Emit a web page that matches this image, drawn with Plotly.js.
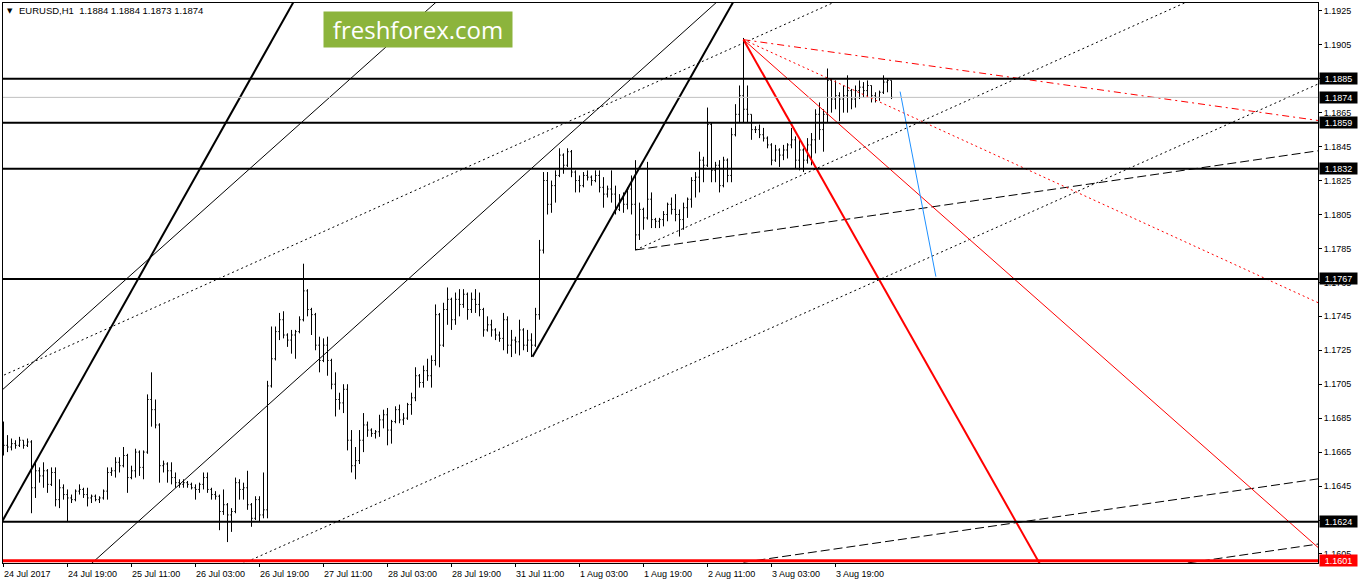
<!DOCTYPE html>
<html><head><meta charset="utf-8">
<script src="https://cdn.plot.ly/plotly-3.0.1.min.js"></script>
<style>html,body{margin:0;padding:0;background:#fff;overflow:hidden}#chart{width:1358px;height:584px}</style>
</head><body><div id="chart"></div>
<script>
// EURUSD H1 bars
const open=[
1.1672,1.1669,1.1668,1.1670,1.1669,1.1672,1.1669,1.1671,1.1644,1.1654,
1.1651,1.1654,1.1646,1.1653,1.1637,1.1644,1.1640,1.1638,1.1637,1.1642,
1.1643,1.1640,1.1638,1.1639,1.1637,1.1638,1.1642,1.1653,1.1654,1.1659,
1.1657,1.1663,1.1650,1.1654,1.1665,1.1656,1.1665,1.1696,1.1690,1.1681,
1.1657,1.1658,1.1654,1.1650,1.1647,1.1646,1.1647,1.1646,1.1644,1.1643,
1.1646,1.1650,1.1643,1.1640,1.1639,1.1630,1.1634,1.1628,1.1630,1.1647,
1.1643,1.1644,1.1634,1.1626,1.1637,1.1628,1.1631,1.1704,1.1720,1.1736,
1.1743,1.1734,1.1731,1.1734,1.1736,1.1743,1.1760,1.1749,1.1746,1.1728,
1.1719,1.1728,1.1719,1.1705,1.1696,1.1694,1.1702,1.1672,1.1657,1.1660,
1.1672,1.1681,1.1678,1.1676,1.1677,1.1684,1.1687,1.1678,1.1683,1.1690,
1.1684,1.1685,1.1693,1.1697,1.1710,1.1706,1.1713,1.1710,1.1719,1.1746,
1.1728,1.1749,1.1755,1.1743,1.1755,1.1752,1.1758,1.1749,1.1755,1.1752,
1.1749,1.1737,1.1740,1.1737,1.1734,1.1732,1.1743,1.1728,1.1731,1.1730,
1.1737,1.1728,1.1731,1.1728,1.1746,1.1784,1.1825,1.1811,1.1822,1.1828,
1.1840,1.1834,1.1842,1.1830,1.1825,1.1822,1.1828,1.1827,1.1825,1.1828,
1.1821,1.1817,1.1820,1.1817,1.1808,1.1814,1.1811,1.1820,1.1811,1.1793,
1.1808,1.1803,1.1814,1.1802,1.1801,1.1802,1.1805,1.1811,1.1808,1.1805,
1.1802,1.1809,1.1814,1.1825,1.1827,1.1837,1.1834,1.1858,1.1831,1.1834,
1.1822,1.1837,1.1828,1.1852,1.1864,1.1875,1.1867,1.1864,1.1855,1.1855,
1.1852,1.1850,1.1846,1.1837,1.1843,1.1840,1.1843,1.1846,1.1849,1.1837,
1.1843,1.1837,1.1846,1.1849,1.1864,1.1855,1.1864,1.1884,1.1873,1.1875,
1.1873,1.1875,1.1878,1.1873,1.1878,1.1880,1.1878,1.1881,1.1875,1.1874,
1.1877,1.1883,1.1884];
const high=[
1.1683,1.1675,1.1673,1.1672,1.1674,1.1672,1.1673,1.1672,1.1660,1.1656,
1.1659,1.1655,1.1656,1.1656,1.1649,1.1646,1.1643,1.1640,1.1643,1.1646,
1.1644,1.1644,1.1640,1.1640,1.1639,1.1643,1.1656,1.1656,1.1662,1.1662,
1.1668,1.1664,1.1657,1.1667,1.1666,1.1666,1.1699,1.1712,1.1696,1.1682,
1.1660,1.1659,1.1659,1.1653,1.1649,1.1649,1.1648,1.1647,1.1646,1.1647,
1.1653,1.1653,1.1644,1.1642,1.1640,1.1643,1.1635,1.1632,1.1650,1.1649,
1.1647,1.1654,1.1635,1.1639,1.1639,1.1653,1.1707,1.1739,1.1739,1.1747,
1.1748,1.1735,1.1737,1.1737,1.1745,1.1776,1.1761,1.1750,1.1747,1.1733,
1.1732,1.1733,1.1720,1.1712,1.1700,1.1705,1.1705,1.1678,1.1668,1.1678,
1.1688,1.1683,1.1679,1.1678,1.1687,1.1690,1.1691,1.1684,1.1692,1.1693,
1.1688,1.1694,1.1700,1.1715,1.1711,1.1716,1.1720,1.1722,1.1752,1.1747,
1.1753,1.1762,1.1756,1.1759,1.1761,1.1761,1.1759,1.1759,1.1761,1.1759,
1.1750,1.1745,1.1743,1.1738,1.1736,1.1747,1.1745,1.1737,1.1733,1.1743,
1.1738,1.1737,1.1735,1.1750,1.1790,1.1830,1.1830,1.1825,1.1831,1.1844,
1.1841,1.1844,1.1843,1.1831,1.1828,1.1830,1.1831,1.1828,1.1831,1.1831,
1.1827,1.1822,1.1831,1.1822,1.1817,1.1818,1.1821,1.1828,1.1837,1.1812,
1.1809,1.1836,1.1818,1.1803,1.1803,1.1807,1.1812,1.1815,1.1817,1.1808,
1.1812,1.1815,1.1827,1.1830,1.1842,1.1839,1.1868,1.1859,1.1836,1.1837,
1.1839,1.1838,1.1856,1.1870,1.1881,1.1909,1.1881,1.1864,1.1857,1.1858,
1.1856,1.1851,1.1847,1.1846,1.1844,1.1846,1.1847,1.1856,1.1851,1.1849,
1.1844,1.1850,1.1853,1.1867,1.1871,1.1867,1.1891,1.1885,1.1884,1.1877,
1.1881,1.1887,1.1879,1.1881,1.1884,1.1883,1.1884,1.1881,1.1877,1.1878,
1.1887,1.1885,1.1884];
const low=[
1.1663,1.1665,1.1666,1.1667,1.1668,1.1667,1.1668,1.1629,1.1638,1.1647,
1.1644,1.1641,1.1645,1.1633,1.1632,1.1637,1.1624,1.1635,1.1636,1.1640,
1.1638,1.1633,1.1635,1.1636,1.1635,1.1637,1.1637,1.1651,1.1650,1.1653,
1.1656,1.1641,1.1649,1.1650,1.1651,1.1649,1.1664,1.1680,1.1679,1.1647,
1.1653,1.1647,1.1646,1.1644,1.1644,1.1644,1.1644,1.1643,1.1637,1.1641,
1.1643,1.1641,1.1637,1.1637,1.1619,1.1628,1.1612,1.1618,1.1629,1.1637,
1.1637,1.1631,1.1621,1.1625,1.1624,1.1626,1.1626,1.1703,1.1719,1.1731,
1.1732,1.1727,1.1723,1.1720,1.1735,1.1742,1.1745,1.1734,1.1725,1.1712,
1.1718,1.1710,1.1702,1.1686,1.1690,1.1688,1.1666,1.1653,1.1649,1.1658,
1.1665,1.1674,1.1674,1.1673,1.1674,1.1679,1.1669,1.1670,1.1682,1.1682,
1.1681,1.1684,1.1687,1.1695,1.1703,1.1703,1.1707,1.1703,1.1716,1.1715,
1.1727,1.1740,1.1737,1.1740,1.1745,1.1750,1.1743,1.1747,1.1747,1.1745,
1.1733,1.1736,1.1733,1.1731,1.1730,1.1725,1.1723,1.1721,1.1723,1.1722,
1.1725,1.1724,1.1721,1.1727,1.1743,1.1782,1.1805,1.1806,1.1812,1.1827,
1.1829,1.1833,1.1827,1.1818,1.1818,1.1821,1.1825,1.1822,1.1824,1.1818,
1.1809,1.1815,1.1812,1.1805,1.1807,1.1806,1.1808,1.1805,1.1784,1.1790,
1.1796,1.1802,1.1797,1.1797,1.1797,1.1798,1.1801,1.1805,1.1801,1.1792,
1.1796,1.1803,1.1809,1.1815,1.1818,1.1824,1.1833,1.1824,1.1824,1.1818,
1.1821,1.1824,1.1824,1.1851,1.1859,1.1859,1.1859,1.1849,1.1853,1.1850,
1.1848,1.1844,1.1834,1.1836,1.1833,1.1837,1.1838,1.1844,1.1832,1.1831,
1.1830,1.1835,1.1834,1.1841,1.1849,1.1842,1.1859,1.1865,1.1867,1.1860,
1.1865,1.1865,1.1867,1.1868,1.1873,1.1874,1.1874,1.1871,1.1871,1.1872,
1.1876,1.1877,1.1873];
const close=[
1.1669,1.1668,1.1670,1.1669,1.1672,1.1669,1.1671,1.1644,1.1654,1.1651,
1.1654,1.1646,1.1653,1.1637,1.1644,1.1640,1.1638,1.1637,1.1642,1.1643,
1.1640,1.1638,1.1639,1.1637,1.1638,1.1642,1.1653,1.1654,1.1659,1.1657,
1.1663,1.1650,1.1654,1.1665,1.1656,1.1665,1.1696,1.1690,1.1681,1.1657,
1.1658,1.1654,1.1650,1.1647,1.1646,1.1647,1.1646,1.1644,1.1643,1.1646,
1.1650,1.1643,1.1640,1.1639,1.1630,1.1634,1.1628,1.1630,1.1647,1.1643,
1.1644,1.1634,1.1626,1.1637,1.1628,1.1631,1.1704,1.1720,1.1736,1.1743,
1.1734,1.1731,1.1734,1.1736,1.1743,1.1760,1.1749,1.1746,1.1728,1.1719,
1.1728,1.1719,1.1705,1.1696,1.1694,1.1702,1.1672,1.1657,1.1660,1.1672,
1.1681,1.1678,1.1676,1.1677,1.1684,1.1687,1.1678,1.1683,1.1690,1.1684,
1.1685,1.1693,1.1697,1.1710,1.1706,1.1713,1.1710,1.1719,1.1746,1.1728,
1.1749,1.1755,1.1743,1.1755,1.1752,1.1758,1.1749,1.1755,1.1752,1.1749,
1.1737,1.1740,1.1737,1.1734,1.1732,1.1743,1.1728,1.1731,1.1730,1.1737,
1.1728,1.1731,1.1728,1.1746,1.1784,1.1825,1.1811,1.1822,1.1828,1.1840,
1.1834,1.1842,1.1830,1.1825,1.1822,1.1828,1.1827,1.1825,1.1828,1.1821,
1.1817,1.1820,1.1817,1.1808,1.1814,1.1811,1.1820,1.1811,1.1793,1.1808,
1.1803,1.1814,1.1802,1.1801,1.1802,1.1805,1.1811,1.1808,1.1805,1.1802,
1.1809,1.1814,1.1825,1.1827,1.1837,1.1834,1.1858,1.1831,1.1834,1.1822,
1.1837,1.1828,1.1852,1.1864,1.1875,1.1867,1.1864,1.1855,1.1855,1.1852,
1.1850,1.1846,1.1837,1.1843,1.1840,1.1843,1.1846,1.1849,1.1837,1.1843,
1.1837,1.1846,1.1849,1.1864,1.1855,1.1864,1.1884,1.1873,1.1875,1.1873,
1.1875,1.1878,1.1873,1.1878,1.1880,1.1878,1.1881,1.1875,1.1874,1.1877,
1.1883,1.1884,1.1874];

// time axis labels (bar index -> label)
const timeTickIdx=[0,16,32,48,64,80,96,112,128,144,160,176,192,208];
const timeTickText=["24 Jul 2017","24 Jul 19:00","25 Jul 11:00","26 Jul 03:00","26 Jul 19:00","27 Jul 11:00","28 Jul 03:00","28 Jul 19:00","31 Jul 11:00","1 Aug 03:00","1 Aug 19:00","2 Aug 11:00","3 Aug 03:00","3 Aug 19:00"];
// price scale
const priceTicks=[1.1925,1.1905,1.1885,1.1865,1.1845,1.1825,1.1805,1.1785,1.1765,1.1745,1.1725,1.1705,1.1685,1.1665,1.1645,1.1625,1.1605];
// horizontal levels
const blackLevels=[1.1885,1.1859,1.1832,1.1767,1.1624];
const redLevel=1.1601;
const bidLevel=1.1874;
const header="EURUSD,H1  1.1884 1.1884 1.1873 1.1874";
// trend line anchors [barIndex, price]
const thick1=[[-1,1.16214],[75,1.19407]];
const thick2=[[132.25,1.17212],[185,1.19409]];
const thin1=[[-1,1.17002],[112,1.19382]];
const thin2=[[20.2,1.15956],[181.7,1.19373]];
const dot1=[[-1,1.17092],[215,1.19378]];
const dot2=[[56.3,1.15956],[330,1.18833]];
const dot3=[[158,1.17841],[302.2,1.19370]];
const dash1=[[158,1.17841],[330,1.18430]];
const dash2=[[185,1.16001],[330,1.16497]];
const dash3=[[280,1.15942],[330,1.16113]];
const red1=[[185,1.1908],[262,1.1587]];
const red2=[[185,1.1908],[331,1.16039]];
const red3=[[185,1.1908],[331,1.17505]];
const red4=[[185,1.1908],[331,1.18596]];
const blue1=[[224.15,1.18774],[233.1,1.17684]];

const FONT='"Liberation Sans", Arial, sans-serif';
const bars=open.map((_,i)=>i);
const XMIN=-0.125, XMAX=XMIN+1315/4;
const YMAX=1.19296, YMIN=1.159967;

function seg(pts,color,width,dash){
  return {type:'scatter',mode:'lines',x:pts.map(p=>p[0]),y:pts.map(p=>p[1]),
    line:{color:color,width:width,dash:dash||'solid'},hoverinfo:'skip',showlegend:false};
}
const traces=[
  {type:'ohlc',x:bars,open:open,high:high,low:low,close:close,tickwidth:0.3,
   increasing:{line:{color:'#000',width:1}},decreasing:{line:{color:'#000',width:1}},
   hoverinfo:'skip',showlegend:false},
  seg(thick1,'#000',2),
  seg(thick2,'#000',2),
  seg(thin1,'#000',1),
  seg(thin2,'#000',1),
  seg(dot1,'#000',1,'2px,3px'),
  seg(dot2,'#000',1,'2px,3px'),
  seg(dot3,'#000',1,'2px,3px'),
  seg(dash1,'#000',1,'9px,4px'),
  seg(dash2,'#000',1,'9px,4px'),
  seg(dash3,'#000',1,'9px,4px'),
  seg(red1,'#ff0000',2),
  seg(red2,'#ff0000',1),
  seg(red3,'#ff0000',1,'2px,3px'),
  seg(red4,'#ff0000',1,'7px,4px,2px,4px'),
  seg(blue1,'#1e90ff',1)
];

const shapes=[];
shapes.push({type:'line',xref:'paper',x0:0,x1:1,yref:'y',y0:bidLevel,y1:bidLevel,line:{color:'#c0c0c0',width:1}});
blackLevels.forEach(v=>shapes.push({type:'line',xref:'paper',x0:0,x1:1,yref:'y',y0:v,y1:v,line:{color:'#000',width:2}}));
shapes.push({type:'line',xref:'paper',x0:0,x1:1,yref:'y',y0:redLevel,y1:redLevel,line:{color:'#ff0000',width:3}});

const ann=[];
timeTickIdx.forEach((ix,k)=>ann.push({xref:'x',yref:'paper',x:ix,y:0,xanchor:'left',yanchor:'middle',
  yshift:-10.5,xshift:-0.5,text:timeTickText[k],showarrow:false,borderpad:0,font:{family:FONT,size:9,color:'#000'}}));
function priceBox(v,bg){
  ann.push({xref:'paper',yref:'y',x:1,y:v,xanchor:'left',yanchor:'middle',xshift:1,text:v.toFixed(4),
    showarrow:false,bgcolor:bg,borderpad:0,width:37,height:11,font:{family:FONT,size:9,color:'#fff'}});
}
blackLevels.concat([bidLevel]).forEach(v=>priceBox(v,'#000'));
priceBox(redLevel,'#ff0000');
ann.push({xref:'paper',yref:'paper',x:0,y:1,xanchor:'left',yanchor:'middle',xshift:15.3,yshift:-7.7,
  text:header,showarrow:false,borderpad:0,font:{family:FONT,size:9.5,color:'#000'}});
ann.push({xref:'paper',yref:'paper',x:0,y:1,xanchor:'center',yanchor:'middle',xshift:6.7,yshift:-7.5,
  text:'▼',showarrow:false,borderpad:0,font:{family:'DejaVu Sans',size:7,color:'#000'}});
ann.push({xref:'paper',yref:'paper',x:(322.5-3)/1315,y:1-(11-3)/560,xanchor:'left',yanchor:'top',
  text:'freshforex.com',showarrow:false,bgcolor:'#8cb43c',borderpad:0,width:188,height:35,
  font:{family:'"Open Sans", sans-serif',size:24,color:'#fff'}});

const layout={
  width:1358,height:584,margin:{l:3,r:40,t:3,b:21,pad:0},
  paper_bgcolor:'#fff',plot_bgcolor:'#fff',showlegend:false,
  xaxis:{range:[XMIN,XMAX],tickvals:timeTickIdx,showticklabels:false,ticks:'outside',ticklen:3,tickcolor:'#000',
    showgrid:false,zeroline:false,showline:true,mirror:true,linecolor:'#000',linewidth:1,
    rangeslider:{visible:false},fixedrange:true},
  yaxis:{side:'right',range:[YMIN,YMAX],tickvals:priceTicks,ticktext:priceTicks.map(v=>v.toFixed(4)),
    ticks:'outside',ticklen:3,tickcolor:'#000',tickfont:{family:FONT,size:9,color:'#000'},
    showgrid:false,zeroline:false,showline:true,mirror:true,linecolor:'#000',linewidth:1,fixedrange:true},
  shapes:shapes,annotations:ann,hovermode:false
};
Plotly.newPlot('chart',traces,layout,{staticPlot:true,displayModeBar:false});
</script></body></html>
